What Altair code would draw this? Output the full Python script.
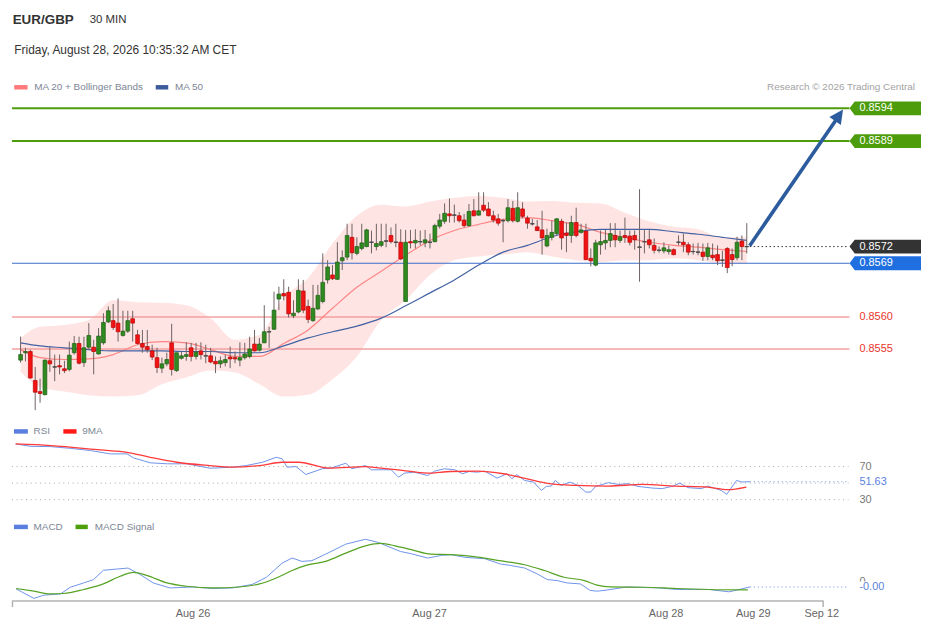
import math
import altair as alt
import pandas as pd

# ------------------------------------------------------------------ data
BASE = 0.85          # prices below are given in pips above 0.8500
PIP = 0.0001

OPEN = [53.2,54.4,54.6,49.9,48.1,47.6,53.1,52.1,52.3,51.8,
        51.7,54.4,55.9,52.8,55.3,55.3,54.2,56.0,59.4,59.6,
        59.2,57.2,57.9,59.9,57.3,55.9,55.4,54.7,53.6,51.9,
        52.6,56.0,51.5,53.5,53.8,55.2,53.8,54.7,53.9,53.9,
        53.0,52.6,52.8,53.7,53.6,53.2,53.6,53.8,55.8,54.8,
        56.0,57.8,58.2,63.1,64.0,64.2,60.4,61.0,64.4,61.9,
        59.6,61.5,62.7,66.2,67.0,66.3,69.3,69.9,73.1,70.5,
        71.3,71.6,72.3,71.6,71.8,72.5,73.4,72.3,72.3,62.7,
        72.4,72.2,72.4,72.2,72.3,72.4,74.9,75.7,76.9,76.7,
        76.6,75.9,75.0,77.4,76.7,78.3,77.7,76.6,76.1,75.8,
        75.8,77.8,75.7,77.7,76.2,75.3,74.8,74.3,71.7,73.1,
        73.7,75.7,73.8,73.4,75.5,73.9,74.1,69.7,68.6,71.9,
        72.2,72.6,73.4,72.6,73.4,73.3,73.4,71.5,72.4,72.7,
        71.8,71.0,70.9,70.8,71.1,72.3,72.3,71.9,70.8,70.7,
        70.7,70.0,70.2,70.3,69.4,71.3,70.3,69.8,72.5,71.6]
HIGH = [57.0,55.2,54.9,52.1,50.2,53.3,55.3,54.1,54.1,53.1,
        56.2,57.1,57.0,57.0,59.2,56.5,58.4,60.8,61.9,62.3,
        63.2,61.2,61.2,61.2,58.1,58.1,58.1,55.7,55.2,53.6,
        54.4,59.1,54.4,54.6,56.1,56.0,56.0,56.1,55.7,55.2,
        53.8,53.8,54.1,55.4,54.6,56.1,56.0,57.0,58.1,56.8,
        62.1,58.6,64.3,65.1,66.3,65.1,62.9,66.3,66.2,63.0,
        65.4,65.4,70.5,69.4,68.6,72.3,71.0,75.3,75.3,73.1,
        75.3,74.5,74.2,75.3,75.3,75.3,74.7,75.3,74.4,74.3,
        74.3,74.4,74.2,74.3,73.7,75.3,76.9,78.6,79.4,78.4,
        77.2,76.9,78.5,79.3,80.4,80.4,78.8,77.4,76.9,76.1,
        79.3,79.0,80.4,78.8,76.6,76.1,75.9,77.4,74.5,75.8,
        76.2,76.1,75.5,76.6,77.9,75.3,75.3,71.3,72.7,74.2,
        74.3,75.4,75.4,74.2,76.3,74.2,74.2,80.9,74.3,74.3,
        72.9,71.6,72.3,71.8,71.3,73.4,73.7,72.3,72.1,72.2,
        72.1,72.2,72.1,71.8,70.9,71.5,71.3,73.2,73.4,75.4]
LOW = [52.8,53.0,50.2,45.1,46.3,47.5,51.3,49.8,50.9,51.1,
       51.4,54.1,52.5,52.1,54.9,50.9,54.1,55.7,59.2,58.1,
       56.2,57.0,57.6,56.2,55.7,54.4,54.4,53.2,51.1,51.1,
       52.2,50.7,51.3,53.3,53.1,53.0,53.3,53.3,52.7,52.7,
       51.1,51.9,52.2,51.9,52.7,52.2,53.3,53.5,54.6,54.6,
       56.0,55.2,58.1,61.3,62.9,60.1,60.0,60.8,60.8,59.2,
       59.4,61.3,62.4,65.6,66.2,66.2,67.8,69.4,69.5,70.2,
       71.0,71.5,70.5,71.0,71.5,71.5,72.1,71.5,69.4,62.7,
       71.3,71.3,71.8,71.5,71.3,72.3,74.5,75.3,75.5,75.5,
       75.5,74.7,74.8,76.5,76.6,77.2,76.5,75.5,75.0,72.3,
       75.5,75.5,75.5,76.2,74.5,75.0,74.1,70.3,71.5,72.6,
       73.4,71.1,70.7,72.2,73.1,73.7,69.4,68.4,68.4,70.3,
       71.1,71.5,71.5,72.2,72.2,71.8,71.1,65.9,70.5,71.3,
       70.5,70.6,70.5,70.3,70.2,71.8,70.7,70.2,70.3,70.2,
       69.3,69.4,69.4,68.6,68.3,67.3,68.4,69.4,69.4,70.5]
CLOSE = [54.1,54.6,50.3,48.0,47.8,53.2,52.6,52.1,52.1,51.5,
         54.0,55.9,52.7,55.2,57.2,54.6,57.1,59.3,61.2,58.5,
         57.8,57.9,59.6,59.2,55.9,55.3,54.9,53.7,52.0,52.6,
         53.3,51.7,54.4,53.9,54.1,53.8,54.5,54.1,53.9,52.9,
         52.6,53.1,53.3,53.4,53.4,53.6,54.2,55.0,54.7,55.8,
         57.8,57.8,61.3,63.9,63.6,60.7,60.8,64.5,61.3,59.8,
         61.6,63.7,65.8,68.3,66.4,69.1,69.8,73.4,70.6,71.6,
         72.2,74.3,72.3,72.1,72.4,72.5,72.4,72.3,69.6,72.3,
         72.2,72.6,72.4,72.7,72.3,75.0,75.9,77.0,76.6,76.7,
         75.8,75.0,77.3,76.6,77.4,77.5,76.6,75.9,75.4,75.8,
         77.9,75.8,77.9,76.5,75.4,75.3,74.2,73.0,73.4,73.9,
         76.1,73.0,73.4,75.5,73.4,74.3,69.5,69.3,72.2,72.4,
         72.6,73.7,72.7,73.2,73.1,72.3,72.7,71.5,72.4,71.9,
         71.0,71.0,71.4,71.1,70.3,72.3,71.9,70.7,70.8,70.7,
         70.0,71.4,69.8,69.3,69.4,68.2,69.5,72.3,71.6,71.6]

IND_I = [1,5,10,15,20,25,30,35,40,45,50,55,60,65,70,75,80,85,90,95,
         100,105,110,115,120,125,130,135,140,145,150]
MA20 = [54.9,53.6,53.3,53.4,54.1,55.7,56.2,56.0,54.9,53.8,53.8,55.9,58.1,61.6,65.0,
        67.6,70.2,72.6,74.2,75.2,76.0,76.3,75.8,75.2,73.9,73.1,72.3,71.8,71.5,71.1,70.8]
BB_UP = [56.8,58.6,58.9,59.7,62.9,62.6,62.5,62.1,60.0,56.5,57.3,63.4,66.5,72.1,76.6,
         78.4,78.1,78.9,79.5,79.8,79.5,78.9,79.0,78.7,78.6,77.1,75.7,74.8,74.4,73.1,73.1]
BB_LO = [51.3,48.8,48.1,47.5,47.3,47.5,49.3,50.4,51.5,51.2,49.3,47.3,47.6,50.1,53.8,
         59.7,62.9,67.0,69.4,70.0,70.3,70.7,70.0,69.4,69.1,69.4,69.4,69.7,69.4,68.9,68.9]
MA50 = [56.0,55.5,55.2,54.9,54.7,54.7,54.7,54.6,54.6,54.4,54.4,55.5,56.8,57.8,58.7,
        60.0,62.0,64.1,66.2,68.6,70.7,71.8,73.2,74.0,74.4,74.4,74.4,74.0,73.6,73.1,72.6]

TARGETS = [0.85940, 0.85887]
SUPPORT = [0.85689]
PIVOTS = [0.85602, 0.85550]
ARROW_END_I = 169.75
ARROW_END_P = 93.8

RSI_I = [1,4.1,8.1,12.1,16.2,20.2,23.6,24.9,28.3,31.8,35.7,40.4,45.0,47.8,51.1,53.9,55.1,
         56.1,57.9,59.9,63.2,65.2,68.0,69.2,72.0,73.2,74.6,77.2,78.7,79.9,81.9,83.2,84.6,
         86.0,88.0,90.1,91.7,93.0,94.6,96.2,98.7,100.7,101.7,102.7,104.3,106.1,107.7,
         108.7,109.7,110.5,111.7,113.5,115.1,116.7,117.7,118.7,121.3,123.3,125.3,127.3,
         130.2,132.2,134.2,135.8,137.4,140.2,141.4,144.2,145.3,147.3,148.3,150]
RSI_V = [97.3,94.4,94.1,92.0,89.3,85.3,85.3,80.5,74.5,73.3,73.3,68.0,69.2,71.2,75.2,81.2,
         79.3,69.2,70.0,60.4,67.3,68.5,74.0,67.3,71.2,66.1,66.1,66.1,57.2,62.0,63.2,61.3,
         59.2,64.4,67.3,66.1,61.3,64.0,63.2,64.4,56.0,61.3,55.3,60.1,53.2,51.2,41.2,46.0,
         46.4,53.2,47.2,51.2,47.2,39.2,39.2,46.0,50.5,48.4,49.3,46.0,44.0,43.3,46.0,50.0,
         44.5,43.3,46.4,41.2,36.4,53.2,51.4,51.63]
RSI_MA_I = [1,8.1,18.2,23.6,28.3,33.7,40.4,45.0,50.5,55.1,58.5,64.6,72.0,74.6,78.6,84.6,
            89.3,94.6,100.0,104.6,109.3,114.7,121.3,128.2,134.8,141.4,145.5,149.3]
RSI_MA_V = [97.3,95.3,90.1,87.2,81.2,75.2,71.2,69.2,71.2,75.2,75.2,68.0,70.0,68.5,66.1,
            62.0,64.0,64.4,61.3,55.3,49.3,47.2,46.4,48.4,46.4,45.2,42.1,45.2]
RSI_GRID = [70, 50, 30]
RSI_TICKS = [70, 30]

MACD_I = [1.1,4.7,6.7,10.1,12.1,14.8,16.8,18.8,21.6,23.8,26.3,28.9,32.3,37.0,41.0,45.0,
          49.0,51.9,55.1,57.1,59.1,61.1,63.9,68.0,72.0,74.6,76.6,79.1,81.3,84.6,87.4,
          89.4,92.2,96.2,99.4,101.4,104.3,106.9,108.9,110.9,112.9,115.6,117.6,119.0,
          120.4,125.0,131.7,135.1,141.7,145.8,150]
MACD_V = [-0.48,-1.16,-0.93,-0.84,-0.36,-0.05,0.19,0.86,0.95,1.02,0.55,-0.05,-0.41,-0.34,
          -0.45,-0.41,-0.16,0.36,1.38,1.74,1.50,1.55,2.02,2.74,3.09,2.86,2.57,2.21,2.05,
          1.74,1.93,1.98,1.79,1.69,1.31,1.21,1.02,0.59,0.19,0.12,-0.05,-0.12,-0.59,-0.64,
          -0.59,-0.34,-0.41,-0.52,-0.52,-0.69,-0.34]
SIG_I = [1.1,4.7,8.1,10.7,14.8,18.8,22.2,24.9,27.7,31.7,35.7,41.0,46.4,50.5,53.9,57.1,
         59.9,63.9,68.0,72.0,75.2,78.0,81.3,85.3,89.4,94.8,98.8,104.3,108.3,112.3,116.4,
         119.0,121.6,128.5,135.1,141.7,149.6]
SIG_V = [-0.45,-0.64,-0.84,-0.81,-0.52,-0.12,0.43,0.71,0.48,-0.05,-0.29,-0.41,-0.34,-0.12,
         0.31,0.84,1.21,1.50,2.09,2.62,2.79,2.62,2.34,2.02,1.98,1.81,1.57,1.26,0.84,0.36,
         0.12,-0.21,-0.34,-0.36,-0.45,-0.52,-0.55]

DATE_TICK_I = [37, 85, 133, 150.7, 164.6]
DATE_TICKS = ["Aug 26", "Aug 27", "Aug 28", "Aug 29", "Sep 12"]

# ------------------------------------------------------------------ layout / style
FONT = "Liberation Sans"
W = 915
H1, H2, H3 = 412, 90, 90
GAP = 1.5
PX = 4.96                 # pixels per bar
I0 = 0.254
XMAX = I0 + W / PX
X_RIGHT = I0 + 842 / PX
X_RIGHT2 = I0 + 846 / PX
P_LO, P_HI = 43.61, 109.94
PPX = H1 / (P_HI - P_LO)

GREEN, GREEN_S = "#2f8a1f", "#1d5e14"
RED, RED_S = "#f21414", "#b80000"
DARK = "#4a4a4a"
WICK = "#6e6262"
BLUE_L = "#6f93e8"
TAG = "M-1,0L-0.852,-0.194L1,-0.194L1,0.194L-0.852,0.194Z"
HEAD = "M0,0L0.8,1.6L-0.8,1.6Z"

XS = alt.Scale(domain=[I0, XMAX], nice=False, zero=False)
YS1 = alt.Scale(domain=[BASE + P_LO * PIP, BASE + P_HI * PIP], nice=False, zero=False)
YS2 = alt.Scale(domain=[17.23, 125.27], nice=False, zero=False)
YS3 = alt.Scale(domain=[-1.357, 5.071], nice=False, zero=False)


def px(v):
    return BASE + v * PIP


def xq(f):
    return alt.X(f, type="quantitative", scale=XS, axis=None)


def yq(f, s):
    return alt.Y(f, type="quantitative", scale=s, axis=None)


def label(text, x, y, size=10, color="#333333", weight="normal", align="left"):
    return alt.Chart(pd.DataFrame({"t": [text]})).mark_text(
        align=align, baseline="middle", fontSize=size, color=color, fontWeight=weight, font=FONT
    ).encode(x=alt.value(x), y=alt.value(y), text="t:N")


def swatch(x0, x1, y, color):
    return alt.Chart(pd.DataFrame({"k": [0]})).mark_rule(color=color, strokeWidth=4.5).encode(
        x=alt.value(x0), x2=alt.value(x1), y=alt.value(y))


# ------------------------------------------------------------------ main panel
n = len(CLOSE)
candles = pd.DataFrame({
    "i": list(range(1, n + 1)),
    "o": [px(v) for v in OPEN], "h": [px(v) for v in HIGH],
    "l": [px(v) for v in LOW], "c": [px(v) for v in CLOSE],
    "dir": ["up" if c > o else ("down" if c < o else "flat") for o, c in zip(OPEN, CLOSE)],
})
ind = pd.DataFrame({"i": IND_I, "ma20": [px(v) for v in MA20], "up": [px(v) for v in BB_UP],
                    "lo": [px(v) for v in BB_LO], "ma50": [px(v) for v in MA50]})

band = alt.Chart(ind).mark_area(color="#ffe4e4", opacity=1, interpolate="monotone").encode(
    x=xq("i"), y=yq("up", YS1), y2="lo")
ma20 = alt.Chart(ind).mark_line(color="#ff8585", strokeWidth=1.2, interpolate="monotone").encode(
    x=xq("i"), y=yq("ma20", YS1))
ma50 = alt.Chart(ind).mark_line(color="#4262a3", strokeWidth=1.2, interpolate="monotone").encode(
    x=xq("i"), y=yq("ma50", YS1))


def hlines(vals, color, width):
    return alt.Chart(pd.DataFrame({"p": vals})).mark_rule(color=color, strokeWidth=width).encode(
        x=alt.value(0), x2=alt.value(843), y=yq("p", YS1))


lv_t = hlines(TARGETS, "#4c9c0c", 2)
lv_s = hlines(SUPPORT, "#3a6cc8", 1.2)
lv_p = hlines(PIVOTS, "#f3a2a2", 1.5)

wicks = alt.Chart(candles).mark_rule(color=WICK, strokeWidth=1).encode(
    x=xq("i"), y=yq("l", YS1), y2="h")
dir_dom = ["up", "down", "flat"]
bodies = alt.Chart(candles).mark_bar(size=3.8, strokeWidth=0.7).encode(
    x=xq("i"), y=yq("o", YS1), y2="c",
    fill=alt.Fill("dir:N", scale=alt.Scale(domain=dir_dom, range=[GREEN, RED, DARK]), legend=None),
    stroke=alt.Stroke("dir:N", scale=alt.Scale(domain=dir_dom, range=[GREEN_S, RED_S, DARK]), legend=None))
dojis = alt.Chart(candles).transform_filter("datum.dir == 'flat'").mark_point(
    shape="M-1,0H1", size=16, filled=False, color=DARK, strokeWidth=1.2, opacity=1).encode(
    x=xq("i"), y=yq("o", YS1))

last_i, last_c = n, CLOSE[-1]
cur = alt.Chart(pd.DataFrame({"a": [last_i + 0.6], "b": [X_RIGHT2], "p": [px(last_c)]})).mark_rule(
    color="#333333", strokeWidth=1, strokeDash=[1.5, 2.5]).encode(x=xq("a"), x2="b", y=yq("p", YS1))

arr_dx = (ARROW_END_I - (last_i + 0.6)) * PX
arr_dy = (ARROW_END_P - last_c) * PPX
ang = math.degrees(math.atan2(arr_dx, arr_dy))
back = 8.0
ln = math.hypot(arr_dx, arr_dy)
arrow_df = pd.DataFrame({
    "i": [last_i + 0.6, ARROW_END_I - back * arr_dx / ln / PX],
    "p": [px(last_c + 0.15), px(ARROW_END_P - back * arr_dy / ln / PPX)],
})
arrow = alt.Chart(arrow_df).mark_line(color="#2d5c9e", strokeWidth=3.6, strokeCap="butt").encode(
    x=xq("i"), y=yq("p", YS1))
head = alt.Chart(pd.DataFrame({"i": [ARROW_END_I], "p": [px(ARROW_END_P)]})).mark_point(
    shape=HEAD, size=306, filled=True, angle=ang, color="#2d5c9e", opacity=1, strokeWidth=0).encode(
    x=xq("i"), y=yq("p", YS1))

tags = pd.DataFrame({
    "p": TARGETS + [px(last_c)] + SUPPORT,
    "bg": ["#4c9c0c", "#4c9c0c", "#333333", "#1f6fe0"],
})
tags["t"] = [f"{v:.4f}" for v in tags["p"]]
tag_box = alt.Chart(tags).mark_point(shape=TAG, size=5184, filled=True, opacity=1, strokeWidth=0).encode(
    x=alt.value(879), y=yq("p", YS1), fill=alt.Fill("bg:N", scale=None))
tag_txt = alt.Chart(tags).mark_text(align="left", baseline="middle", fontSize=11, color="white",
                                    font=FONT).encode(x=alt.value(853), y=yq("p", YS1), text="t:N")
piv = pd.DataFrame({"p": PIVOTS})
piv["t"] = [f"{v:.4f}" for v in PIVOTS]
piv_txt = alt.Chart(piv).mark_text(align="left", baseline="middle", fontSize=11, color="#e8352b",
                                   font=FONT).encode(x=alt.value(853), y=yq("p", YS1), text="t:N")

main = alt.layer(
    band, lv_p, ma20, ma50, lv_s, lv_t, wicks, bodies, dojis, cur, arrow, head,
    tag_box, tag_txt, piv_txt,
    label("EUR/GBP", 0.7, 10.5, 13.5, "#333333", "bold"),
    label("30 MIN", 78.3, 10.5, 11.5, "#333333"),
    label("Friday, August 28, 2026 10:35:32 AM CET", 2.3, 39.8, 12, "#333333"),
    swatch(2.3, 15.7, 77.8, "#ff7b7b"),
    label("MA 20 + Bollinger Bands", 22.3, 77.8, 10, "#7d8696"),
    swatch(144.7, 157.3, 77.8, "#3d5c9b"),
    label("MA 50", 164, 77.8, 10, "#7d8696"),
    label("Research © 2026 Trading Central", 909, 77.8, 10, "#a3a3a3", align="right"),
).properties(width=W, height=H1)

# ------------------------------------------------------------------ RSI panel
rsi_df = pd.DataFrame({"i": RSI_I, "v": RSI_V})
rsima_df = pd.DataFrame({"i": RSI_MA_I, "v": RSI_MA_V})
grid2 = alt.Chart(pd.DataFrame({"v": RSI_GRID})).mark_rule(
    color="#a8a8a8", strokeWidth=1, strokeDash=[1, 3.7]).encode(
    x=alt.value(0), x2=alt.value(842), y=yq("v", YS2))
rsi_ext = alt.Chart(pd.DataFrame({"a": [RSI_I[-1]], "b": [X_RIGHT], "v": [RSI_V[-1]]})).mark_rule(
    color=BLUE_L, strokeWidth=1, strokeDash=[1, 3]).encode(x=xq("a"), x2="b", y=yq("v", YS2))
rsi_line = alt.Chart(rsi_df).mark_line(color=BLUE_L, strokeWidth=1).encode(x=xq("i"), y=yq("v", YS2))
rsima_line = alt.Chart(rsima_df).mark_line(color="#ff3a3a", strokeWidth=1.3, interpolate="monotone").encode(
    x=xq("i"), y=yq("v", YS2))
rt = pd.DataFrame({"v": RSI_TICKS, "t": [str(v) for v in RSI_TICKS]})
rsi_ticks = alt.Chart(rt).mark_text(align="left", baseline="middle", fontSize=11, color="#777777",
                                    font=FONT).encode(x=alt.value(853), y=yq("v", YS2), text="t:N")
rsi_val = alt.Chart(pd.DataFrame({"v": [RSI_V[-1]], "t": [f"{RSI_V[-1]:.2f}"]})).mark_text(
    align="left", baseline="middle", fontSize=11, color="#5b7fe0", font=FONT).encode(
    x=alt.value(853), y=yq("v", YS2), text="t:N")

rsi = alt.layer(
    grid2, rsi_ext, rsi_line, rsima_line, rsi_ticks, rsi_val,
    swatch(2, 16, 10.7, "#5b7fe0"), label("RSI", 21.7, 10.7, 10, "#7d8696"),
    swatch(51.7, 65, 10.7, "#ff1a1a"), label("9MA", 70.7, 10.7, 10, "#7d8696"),
).properties(width=W, height=H2)

# ------------------------------------------------------------------ MACD panel
macd_df = pd.DataFrame({"i": MACD_I, "v": MACD_V})
sig_df = pd.DataFrame({"i": SIG_I, "v": SIG_V})
macd_line = alt.Chart(macd_df).mark_line(color=BLUE_L, strokeWidth=1).encode(x=xq("i"), y=yq("v", YS3))
sig_line = alt.Chart(sig_df).mark_line(color="#56a324", strokeWidth=1.2, interpolate="monotone").encode(
    x=xq("i"), y=yq("v", YS3))
macd_ext = alt.Chart(pd.DataFrame({"a": [MACD_I[-1]], "b": [X_RIGHT], "v": [MACD_V[-1]]})).mark_rule(
    color=BLUE_L, strokeWidth=1, strokeDash=[1, 3]).encode(x=xq("a"), x2="b", y=yq("v", YS3))
zero_lbl = alt.Chart(pd.DataFrame({"v": [0], "t": ["0"]})).mark_text(
    align="left", baseline="middle", fontSize=11, color="#777777", font=FONT).encode(
    x=alt.value(853), y=yq("v", YS3), text="t:N")
val_bg = alt.Chart(pd.DataFrame({"v": [MACD_V[-1]]})).mark_point(
    shape="M-1,-0.3H1V0.3H-1Z", size=1300, filled=True, color="white", opacity=1, strokeWidth=0).encode(
    x=alt.value(870), y=yq("v", YS3))
macd_val = alt.Chart(pd.DataFrame({"v": [MACD_V[-1]], "t": [f"{MACD_V[-1] * PIP:.2f}"]})).mark_text(
    align="left", baseline="middle", fontSize=11, color="#5b7fe0", font=FONT).encode(
    x=alt.value(853), y=yq("v", YS3), text="t:N")

one = pd.DataFrame({"k": [0]})
axis_line = alt.Chart(one).mark_rule(color="#b3b3b3", strokeWidth=1.5).encode(
    x=alt.value(0), x2=alt.value(817), y=alt.value(90))
tick_l = alt.Chart(one).mark_rule(color="#b3b3b3", strokeWidth=1.5).encode(
    x=alt.value(0.5), y=alt.value(90), y2=alt.value(96))
tick_r = alt.Chart(one).mark_rule(color="#b3b3b3", strokeWidth=1.5).encode(
    x=alt.value(816.5), y=alt.value(90), y2=alt.value(96))
dates = alt.Chart(pd.DataFrame({"i": DATE_TICK_I, "t": DATE_TICKS})).mark_text(
    align="center", baseline="middle", fontSize=11, color="#666666", font=FONT).encode(
    x=xq("i"), y=alt.value(103), text="t:N")

macd = alt.layer(
    macd_ext, macd_line, sig_line, zero_lbl, val_bg, macd_val, axis_line, tick_l, tick_r, dates,
    swatch(2, 16, 15.3, "#5b7fe0"), label("MACD", 21.7, 15.3, 10, "#7d8696"),
    swatch(64, 76.3, 15.3, "#4c9e0a"), label("MACD Signal", 83.3, 15.3, 10, "#7d8696"),
).properties(width=W, height=H3)

chart = alt.vconcat(main, rsi, macd, spacing=GAP).properties(
    padding={"left": 3, "top": 0, "right": 0, "bottom": 0}, background="white"
).configure_view(stroke=None).configure_text(font=FONT)

chart.save("out.html", embed_options={"renderer": "svg", "actions": False})
